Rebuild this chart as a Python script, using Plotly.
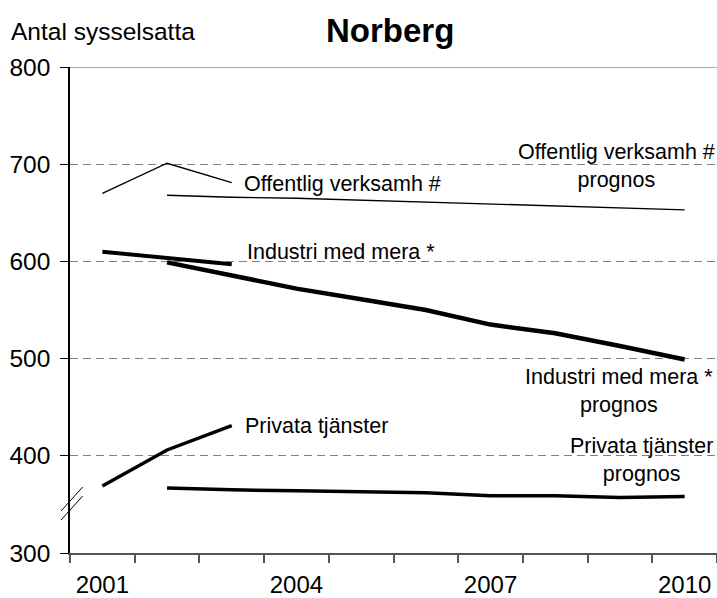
import plotly.graph_objects as go

# Employment in Norberg by sector: observed figures and forecast
actual_years = [2001, 2002, 2003]
forecast_years = [2002, 2003, 2004, 2005, 2006, 2007, 2008, 2009, 2010]

offentlig_actual = [670, 701, 681]
industri_actual = [610, 603, 597]
privata_actual = [369, 406, 431]

offentlig_prognos = [668, 666, 665, 663, 661, 659, 657, 655, 653]
industri_prognos = [599, 586, 572, 561, 550, 535, 526, 513, 499]
privata_prognos = [367, 365, 364, 363, 362, 359, 359, 357, 358]

x_tick_years = [2001, 2004, 2007, 2010]
x_tick_labels = ["2001", "2004", "2007", "2010"]
y_ticks = [300, 400, 500, 600, 700, 800]

FONT = "Liberation Sans, Arial, sans-serif"

fig = go.Figure()

def add_line(xs, ys, width):
    fig.add_trace(go.Scatter(
        x=xs, y=ys, mode="lines",
        line=dict(color="black", width=width),
        showlegend=False, hoverinfo="skip",
    ))

add_line(actual_years, offentlig_actual, 1.4)
add_line(forecast_years, offentlig_prognos, 1.4)
add_line(actual_years, industri_actual, 4)
add_line(forecast_years, industri_prognos, 4.5)
add_line(actual_years, privata_actual, 3.5)
add_line(forecast_years, privata_prognos, 3.5)

# Series labels
label_font = dict(family=FONT, size=21.5, color="black")
side_labels = [
    (2003.16, 680, "Offentlig verksamh #"),
    (2003.21, 610, "Industri med mera *"),
    (2003.18, 431, "Privata tjänster"),
]
for x, y, txt in side_labels:
    fig.add_annotation(x=x, y=y, xref="x", yref="y", text=txt, showarrow=False,
                       xanchor="left", yanchor="middle", font=label_font)

forecast_labels = [
    (2008.94, 698, "Offentlig verksamh #<br>prognos"),
    (2008.99, 467, "Industri med mera *<br>prognos"),
    (2009.33, 396, "Privata tjänster<br>prognos"),
]
for x, y, txt in forecast_labels:
    fig.add_annotation(x=x, y=y, xref="x", yref="y", text=txt, showarrow=False,
                       xanchor="center", yanchor="middle", align="center",
                       font=label_font)

# Title and axis caption (positions given in pixels, converted below)
fig.add_annotation(x=389.5, y=30, xref="paper", yref="paper", text="<b>Norberg</b>",
                   showarrow=False, xanchor="center", yanchor="middle",
                   font=dict(family=FONT, size=33, color="black"))
fig.add_annotation(x=9, y=31, xref="paper", yref="paper", text="Antal sysselsatta",
                   showarrow=False, xanchor="left", yanchor="middle",
                   font=dict(family=FONT, size=24.5, color="black"))

# Solid top border line at 800
fig.add_shape(type="line", xref="paper", yref="y", x0=0, x1=1, y0=800, y1=800,
              line=dict(color="#8c8c8c", width=1.5))

# Axis break marks on the y-axis
for dy in (0, 9):
    fig.add_shape(type="line", xref="paper", yref="paper",
                  x0=61, y0=510.7 + dy, x1=82.7, y1=486.7 + dy,
                  line=dict(color="black", width=1))

# Convert annotations/shapes given in pixels to paper coordinates
W, H = 717, 598
L, R, T, B = 70, 0, 66.7, 45.3
pw, ph = W - L - R, H - T - B

def px_to_paper_x(px):
    return (px - L) / pw

def px_to_paper_y(py):
    return (H - B - py) / ph

for ann in fig.layout.annotations:
    if ann.xref == "paper":
        ann.x = px_to_paper_x(ann.x)
        ann.y = px_to_paper_y(ann.y)
for shp in fig.layout.shapes:
    if shp.xref == "paper" and shp.yref == "paper":
        shp.x0 = px_to_paper_x(shp.x0)
        shp.x1 = px_to_paper_x(shp.x1)
        shp.y0 = px_to_paper_y(shp.y0)
        shp.y1 = px_to_paper_y(shp.y1)

fig.update_layout(
    width=W, height=H,
    margin=dict(l=L, r=R, t=T, b=B, autoexpand=False),
    paper_bgcolor="white", plot_bgcolor="white",
    font=dict(family=FONT, color="black"),
    xaxis=dict(
        automargin=False,
        range=[2000.5, 2010.5],
        tickvals=x_tick_years, ticktext=x_tick_labels,
        ticks="outside", ticklen=9, tickcolor="rgba(0,0,0,0)",
        tickfont=dict(family=FONT, size=24, color="black"),
        showgrid=False, zeroline=False,
        showline=True, linecolor="#555555", linewidth=2,
        minor=dict(tick0=2000.5, dtick=1, ticks="outside", ticklen=8,
                   tickcolor="#555555", tickwidth=1.5, showgrid=False),
    ),
    yaxis=dict(
        automargin=False,
        range=[300, 800],
        tickvals=y_ticks,
        ticks="outside", ticklen=8, tickcolor="black", tickwidth=1,
        ticklabelstandoff=5,
        tickfont=dict(family=FONT, size=24.5, color="black"),
        showgrid=True, gridcolor="#808080", gridwidth=1, griddash="8px,5px",
        zeroline=False,
        showline=True, linecolor="black", linewidth=1.5,
    ),
)

fig.write_html("out.html")
